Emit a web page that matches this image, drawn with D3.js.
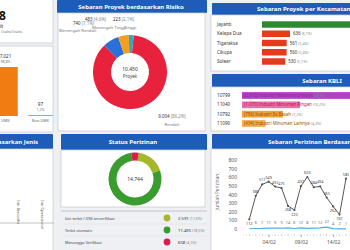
<!DOCTYPE html>
<html>
<head>
<meta charset="utf-8">
<script src="https://cdn.jsdelivr.net/npm/d3@7"></script>
<style>
html, body { margin: 0; padding: 0; background: #eef0f3; }
svg { display: block; font-family: "Noto Sans", "Open Sans", sans-serif; }
</style>
</head>
<body>
<div id="chart"></div>
<script>
// ---- data ----
var umkCategories = ["UMK", "Non-UMK"];
var umkValues = [7021, 97];
var umkPercents = ["98,8%", "1,2%"];

var jenisCategories = ["Izin Berusaha", "Izin Operasional"];

var riskCategories = ["Rendah", "Menengah Rendah", "Menengah Tinggi", "Tinggi"];
var riskValues = [9004, 740, 483, 223];

var statusCategories = ["Izin terbit / OSS terverifikasi", "Terbit otomatis", "Menunggu Verifikasi"];
var statusValues = [2591, 11495, 658];

var kecamatanNames = ["Jayanti", "Kelapa Dua", "Tigaraksa", "Cikupa", "Solear"];
var kecamatanValues = [2400, 636, 561, 560, 530];

var kbliCodes = ["10799", "11040", "10792", "11090"];
var kbliNames = ["Industri Makanan Lainnya", "Industri Minuman Ringan", "Industri Es Basah", "Industri Minuman Lainnya"];
var kbliValues = [2976, 1070, 756, 434];

var dayLabels = ["01/02", "02/02", "03/02", "04/02", "05/02", "06/02", "07/02", "08/02",
                 "09/02", "10/02", "11/02", "12/02", "13/02", "14/02", "15/02", "16/02"];
var perizinanValues = [112, 385, 517, 549, 492, 475, 268, 220, 497, 603, 484, 494, 365, 262, 167, 585];
var smallValues = [3, 6, 7, 11, 9, 9, 14, 6, 12, 8, 11, 12, 22, 4, 2, 1];
var xTickLabels = ["04/02", "09/02", "14/02"];
var yTicks = [0, 100, 200, 300, 400, 500, 600, 700, 800];

// ---- helpers ----
var W = 350, H = 250;
var blue = "#1d5cb8";
var fmt = d3.formatLocale({ decimal: ",", thousands: ".", grouping: [3], currency: ["", ""] });
var num = fmt.format(",d");
var pct = fmt.format(".1%");

var svg = d3.select("#chart").append("svg").attr("width", W).attr("height", H);
var defs = svg.append("defs");

function clip(id, x, y, w, h) {
    defs.append("clipPath").attr("id", id)
        .append("rect").attr("x", x).attr("y", y).attr("width", w).attr("height", h);
    return "url(#" + id + ")";
}

function panel(g, x, y, w, h) {
    return g.append("rect").attr("x", x).attr("y", y).attr("width", w).attr("height", h)
        .attr("fill", "#fff").attr("stroke", "#c8ccd3").attr("stroke-width", 0.8);
}

function header(g, x, y, w, h, label, tx, anchor) {
    g.append("rect").attr("x", x).attr("y", y).attr("width", w).attr("height", h)
        .attr("rx", 1).attr("fill", blue);
    g.append("text").attr("x", tx).attr("y", y + h / 2 + 2)
        .attr("text-anchor", anchor || "middle")
        .attr("fill", "#fff").attr("font-size", 6).attr("font-weight", "bold")
        .text(label);
}

svg.append("rect").attr("width", W).attr("height", H).attr("fill", "#eef0f3");

// ================= LEFT COLUMN =================
var left = svg.append("g").attr("clip-path", clip("clipLeft", 0, 0, 54, H));

// KPI card
panel(left, -3, -3, 56, 46);
left.append("text").attr("x", 6).attr("y", 20).attr("text-anchor", "end")
    .attr("font-size", 12).attr("font-weight", "bold").attr("fill", "#111")
    .text(num(d3.sum(umkValues)));
left.append("text").attr("x", 3).attr("y", 27.5).attr("text-anchor", "end")
    .attr("font-size", 5).attr("fill", "#222").text("Unit");
left.append("text").attr("x", 1).attr("y", 33)
    .attr("font-size", 3.4).attr("fill", "#777").text("Usaha/Usaha");

// UMK bar chart
panel(left, -3, 46, 56, 86);
var umkX = d3.scaleBand().domain(umkCategories).range([-12, 58]).paddingInner(0.3).paddingOuter(0.15);
var umkY = d3.scaleLinear().domain([0, 7021]).range([116, 67]);
left.selectAll("rect.umk").data(umkCategories).enter().append("rect")
    .attr("class", "umk")
    .attr("x", function(d) { return umkX(d); })
    .attr("width", umkX.bandwidth())
    .attr("y", function(d, i) { return Math.min(umkY(umkValues[i]), 115.2); })
    .attr("height", function(d, i) { return Math.max(umkY(0) - umkY(umkValues[i]), 0.8); })
    .attr("fill", "#f07c12");
left.selectAll("text.umkv").data(umkCategories).enter().append("text")
    .attr("class", "umkv")
    .attr("x", function(d) { return umkX(d) + umkX.bandwidth() / 2; })
    .attr("y", function(d, i) { return Math.min(umkY(umkValues[i]), 115) - 9; })
    .attr("text-anchor", "middle").attr("font-size", 4.6).attr("fill", "#333")
    .text(function(d, i) { return num(umkValues[i]); });
left.selectAll("text.umkp").data(umkCategories).enter().append("text")
    .attr("class", "umkp")
    .attr("x", function(d) { return umkX(d) + umkX.bandwidth() / 2; })
    .attr("y", function(d, i) { return Math.min(umkY(umkValues[i]), 115) - 4; })
    .attr("text-anchor", "middle").attr("font-size", 3.6).attr("fill", "#777")
    .text(function(d, i) { return umkPercents[i]; });
left.selectAll("text.umkc").data(umkCategories).enter().append("text")
    .attr("class", "umkc")
    .attr("x", function(d) { return umkX(d) + umkX.bandwidth() / 2; })
    .attr("y", 122).attr("text-anchor", "middle").attr("font-size", 3.8).attr("fill", "#666")
    .text(function(d) { return d; });

// Perizinan berdasarkan jenis
header(left, -3, 134, 56, 15, "Sebaran Perizinan Berdasarkan Jenis", 38, "end");
panel(left, -3, 149, 56, 104);
var jenisX = d3.scaleBand().domain(jenisCategories).range([4, 56]).padding(0.2);
left.append("line").attr("x1", 0).attr("x2", 54).attr("y1", 223).attr("y2", 223)
    .attr("stroke", "#999").attr("stroke-width", 0.6);
left.selectAll("text.jenis").data(jenisCategories).enter().append("text")
    .attr("class", "jenis")
    .attr("transform", function(d) {
        return "translate(" + (jenisX(d) + jenisX.bandwidth() / 2 - 1) + ",200) rotate(90)";
    })
    .attr("font-size", 3.8).attr("fill", "#666")
    .text(function(d) { return d; });

// ================= MIDDLE COLUMN =================
var mid = svg.append("g").attr("clip-path", clip("clipMid", 56, 0, 151, H));

header(mid, 57, 0, 150, 13, "Sebaran Proyek berdasarkan Risiko", 131);
panel(mid, 58, 13, 147, 118);

var riskColors = d3.scaleOrdinal().domain(riskCategories)
    .range(["#e8213d", "#2b6fd8", "#f0a01e", "#3aa2b4"]);
var riskTotal = d3.sum(riskValues);
var riskPie = d3.pie().sort(null).startAngle(0.1).endAngle(0.1 + 2 * Math.PI);
var riskArc = d3.arc().innerRadius(19).outerRadius(37);
var riskG = mid.append("g").attr("transform", "translate(130,72)");
riskG.selectAll("path").data(riskPie(riskValues)).enter().append("path")
    .attr("d", riskArc)
    .attr("fill", function(d, i) { return riskColors(riskCategories[i]); });
riskG.append("text").attr("y", -1).attr("text-anchor", "middle")
    .attr("font-size", 5).attr("fill", "#333").text(num(riskTotal));
riskG.append("text").attr("y", 6).attr("text-anchor", "middle")
    .attr("font-size", 4.5).attr("fill", "#444").text("Proyek");

// outside labels (placement offsets from donut centre)
var riskLabelPos = {
    "Rendah": [42, 46, "middle"],
    "Menengah Rendah": [-57, -47, "start"],
    "Menengah Tinggi": [-45, -51, "start"],
    "Tinggi": [-17, -51, "start"]
};
var riskCatPos = {
    "Rendah": [42, 54, "middle"],
    "Menengah Rendah": [-71, -40, "start"],
    "Menengah Tinggi": [-38, -43, "start"],
    "Tinggi": [-6, -43, "start"]
};
riskCategories.forEach(function(c, i) {
    var p = riskLabelPos[c];
    var t = riskG.append("text").attr("x", p[0]).attr("y", p[1]).attr("text-anchor", p[2])
        .attr("font-size", 4.4).attr("fill", "#333");
    t.append("tspan").text(num(riskValues[i]) + " ");
    t.append("tspan").attr("fill", "#888").text("(" + pct(riskValues[i] / riskTotal) + ")");
    var q = riskCatPos[c];
    riskG.append("text").attr("x", q[0]).attr("y", q[1]).attr("text-anchor", q[2])
        .attr("font-size", 4.2).attr("fill", "#777").text(c);
});

// Status perizinan
header(mid, 61, 134, 146, 16, "Status Perizinan", 133);
panel(mid, 61, 150, 144, 57);
var statusColors = d3.scaleOrdinal().domain(statusCategories)
    .range(["#a6b82a", "#3a9c2e", "#d81f4c"]);
var statusTotal = d3.sum(statusValues);
var statusPie = d3.pie().sort(null).startAngle(0.14).endAngle(0.14 + 2 * Math.PI);
var statusArc = d3.arc().innerRadius(18.5).outerRadius(26.5);
var statusG = mid.append("g").attr("transform", "translate(135,179)");
statusG.selectAll("path").data(statusPie(statusValues)).enter().append("path")
    .attr("d", statusArc)
    .attr("fill", function(d, i) { return statusColors(statusCategories[i]); });
statusG.append("text").attr("y", 2).attr("text-anchor", "middle")
    .attr("font-size", 5).attr("fill", "#333").text(num(statusTotal));

mid.append("line").attr("x1", 61).attr("x2", 207).attr("y1", 211).attr("y2", 211)
    .attr("stroke", "#aaa").attr("stroke-width", 0.6);
var legendY = d3.scalePoint().domain(statusCategories).range([218, 242]);
statusCategories.forEach(function(c, i) {
    var y = legendY(c);
    mid.append("text").attr("x", 65).attr("y", y + 1.5).attr("font-size", 3.8)
        .attr("fill", "#444").text(c);
    mid.append("circle").attr("cx", 167).attr("cy", y).attr("r", 3.4)
        .attr("fill", statusColors(c));
    var t = mid.append("text").attr("x", 178).attr("y", y + 1.5)
        .attr("font-size", 4.2).attr("fill", "#333");
    t.append("tspan").text(num(statusValues[i]) + " ");
    t.append("tspan").attr("fill", "#888").attr("font-size", 3.6)
        .text("(" + pct(statusValues[i] / statusTotal) + ")");
    if (i < statusCategories.length - 1) {
        mid.append("line").attr("x1", 63).attr("x2", 207).attr("y1", y + 6).attr("y2", y + 6)
            .attr("stroke", "#e2e2e2").attr("stroke-width", 0.5);
    }
});

// ================= RIGHT COLUMN =================
var right = svg.append("g");

// Kecamatan
header(right, 212, 3, 160, 12, "Sebaran Proyek per Kecamatan", 257, "start");
panel(right, 211, 15, 160, 56);
var kecY = d3.scaleBand().domain(kecamatanNames).range([18.5, 67.5]).padding(0.3);
var kecX = d3.scaleLinear().domain([0, 2000]).range([262, 350]);
var kecColors = ["#2f8a2f", "#e63a1f", "#e63a1f", "#e63a1f", "#e63a1f"];
right.selectAll("text.kec").data(kecamatanNames).enter().append("text")
    .attr("class", "kec").attr("x", 217)
    .attr("y", function(d) { return kecY(d) + kecY.bandwidth() / 2 + 1.6; })
    .attr("font-size", 4.6).attr("fill", "#333").text(function(d) { return d; });
right.selectAll("rect.kec").data(kecamatanNames).enter().append("rect")
    .attr("class", "kec").attr("x", kecX(0))
    .attr("y", function(d) { return kecY(d); })
    .attr("height", kecY.bandwidth())
    .attr("width", function(d, i) { return kecX(kecamatanValues[i]) - kecX(0); })
    .attr("fill", function(d, i) { return kecColors[i]; });
kecamatanNames.forEach(function(d, i) {
    var t = right.append("text").attr("x", kecX(kecamatanValues[i]) + 3)
        .attr("y", kecY(d) + kecY.bandwidth() / 2 + 1.6)
        .attr("font-size", 4.4).attr("fill", "#333");
    t.append("tspan").text(num(kecamatanValues[i]) + " ");
    t.append("tspan").attr("fill", "#888").attr("font-size", 3.6)
        .text("(" + pct(kecamatanValues[i] / riskTotal) + ")");
});

// KBLI
header(right, 212, 74, 220, 13, "Sebaran  KBLI", 322);
panel(right, 211, 87, 160, 44);
var kbliY = d3.scaleBand().domain(kbliCodes).range([89.5, 129.5]).padding(0.28);
var kbliX = d3.scaleLinear().domain([0, 1070]).range([242, 300]);
var kbliColors = ["#b23fc4", "#ec6fa6", "#f0a23a", "#f2ac4a"];
var kbliText = ["#8e2aa0", "#b0194e", "#9a4f00", "#9a4f00"];
right.selectAll("text.kbli").data(kbliCodes).enter().append("text")
    .attr("class", "kbli").attr("x", 217)
    .attr("y", function(d) { return kbliY(d) + kbliY.bandwidth() / 2 + 1.6; })
    .attr("font-size", 4.6).attr("fill", "#333").text(function(d) { return d; });
right.selectAll("rect.kbli").data(kbliCodes).enter().append("rect")
    .attr("class", "kbli").attr("x", kbliX(0))
    .attr("y", function(d) { return kbliY(d); })
    .attr("height", kbliY.bandwidth())
    .attr("width", function(d, i) { return kbliX(kbliValues[i]) - kbliX(0); })
    .attr("fill", function(d, i) { return kbliColors[i]; });
kbliCodes.forEach(function(d, i) {
    var t = right.append("text").attr("x", kbliX(0) + 2)
        .attr("y", kbliY(d) + kbliY.bandwidth() / 2 + 1.6)
        .attr("font-size", 4.4).attr("fill", "#666");
    t.append("tspan").attr("fill", kbliText[i])
        .text("(" + num(kbliValues[i]) + ") " + kbliNames[i] + " ");
    t.append("tspan").attr("fill", "#888").attr("font-size", 3.6)
        .text("(" + pct(kbliValues[i] / riskTotal) + ")");
});

// Perizinan per tanggal
header(right, 212, 134, 160, 15, "Sebaran Perizinan Berdasarkan Tanggal", 268, "start");
panel(right, 211, 149, 160, 104);

var lx = d3.scalePoint().domain(dayLabels).range([249.3, 346]);
var ly = d3.scaleLinear().domain([0, 800]).range([229, 160]);

var yAxis = right.append("g").attr("transform", "translate(240,0)")
    .call(d3.axisLeft(ly).tickValues(yTicks).tickSize(0).tickPadding(3));
yAxis.select(".domain").remove();
yAxis.selectAll("text").attr("font-size", 5).attr("fill", "#555")
    .attr("font-family", "Noto Sans, sans-serif");

right.append("text").attr("transform", "translate(219,192) rotate(-90)")
    .attr("text-anchor", "middle").attr("font-size", 4.6).attr("fill", "#666")
    .text("Jumlah Perizinan");

var xAxis = right.append("g").attr("transform", "translate(0,235)")
    .call(d3.axisBottom(lx).tickValues(xTickLabels).tickSize(2).tickPadding(3));
xAxis.select(".domain").remove();
xAxis.selectAll("line").attr("stroke", "#777").attr("stroke-width", 0.6);
xAxis.selectAll("text").attr("font-size", 5).attr("fill", "#555")
    .attr("font-family", "Noto Sans, sans-serif");
right.append("line").attr("x1", 243).attr("x2", 350).attr("y1", 235).attr("y2", 235)
    .attr("stroke", "#aaa").attr("stroke-width", 0.6).attr("stroke-dasharray", "0.8,2.4");
right.selectAll("circle.tick").data(dayLabels).enter().append("circle")
    .attr("class", "tick").attr("cx", function(d) { return lx(d); }).attr("cy", 235)
    .attr("r", 0.45).attr("fill", "#888");

var smallLine = d3.line()
    .x(function(d, i) { return lx(dayLabels[i]); })
    .y(function(d) { return ly(d); });
right.append("path").datum(smallValues).attr("d", smallLine)
    .attr("fill", "none").attr("stroke", "#4fb0e6").attr("stroke-width", 1.2);
right.selectAll("text.small").data(smallValues).enter().append("text")
    .attr("class", "small")
    .attr("x", function(d, i) { return lx(dayLabels[i]); })
    .attr("y", function(d) { return ly(d) - 4; })
    .attr("text-anchor", "middle").attr("font-size", 3.8).attr("fill", "#666")
    .text(function(d, i) { return i === 0 ? "" : d; });

var bigLine = d3.line()
    .x(function(d, i) { return lx(dayLabels[i]); })
    .y(function(d) { return ly(d); });
right.append("path").datum(perizinanValues).attr("d", bigLine)
    .attr("fill", "none").attr("stroke", "#444").attr("stroke-width", 0.9);
right.selectAll("circle.pt").data(perizinanValues).enter().append("circle")
    .attr("class", "pt")
    .attr("cx", function(d, i) { return lx(dayLabels[i]); })
    .attr("cy", function(d) { return ly(d); })
    .attr("r", 1.1).attr("fill", "#555");
right.selectAll("text.pt").data(perizinanValues).enter().append("text")
    .attr("class", "pt")
    .attr("x", function(d, i) { return lx(dayLabels[i]); })
    .attr("y", function(d) { return d < 300 ? ly(d) + 5.5 : ly(d) - 3; })
    .attr("text-anchor", "middle").attr("font-size", 3.8).attr("fill", "#444")
    .text(function(d) { return d; });
</script>
</body>
</html>
